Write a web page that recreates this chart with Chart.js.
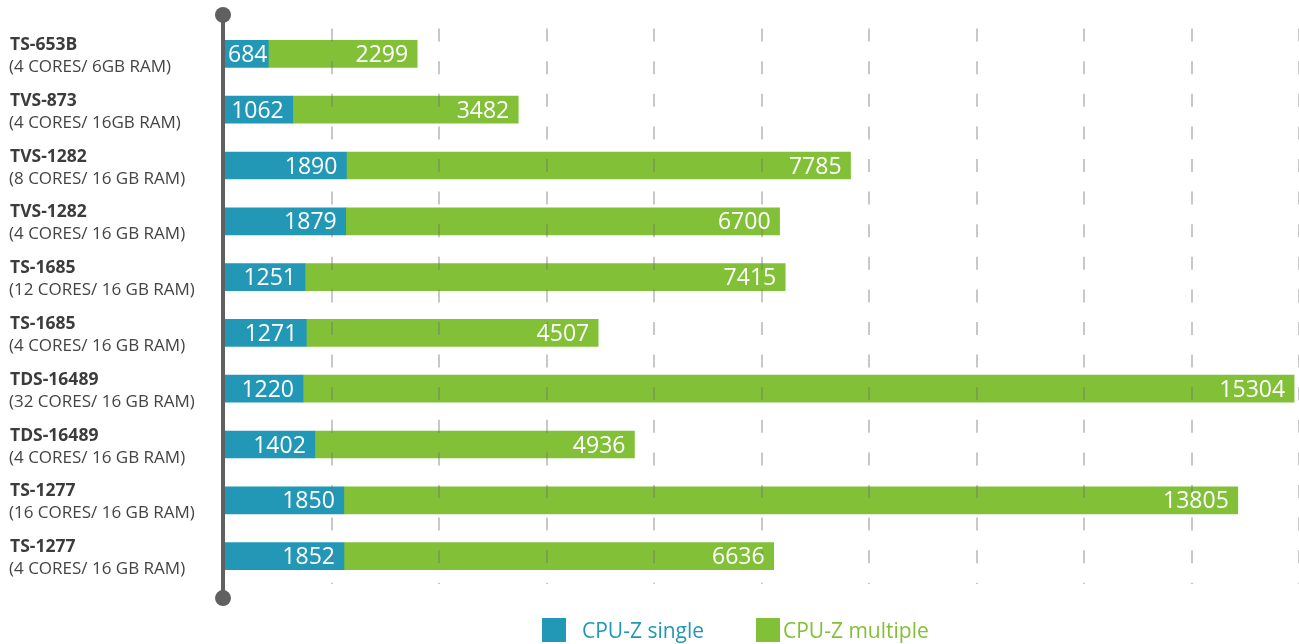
<!DOCTYPE html>
<html>
<head>
<meta charset="utf-8">
<script src="https://cdn.jsdelivr.net/npm/chart.js@4"></script>
<style>
  html, body { margin: 0; padding: 0; background: #fff; }
  #wrap { position: relative; width: 1299px; height: 644px; }
</style>
</head>
<body>
<div id="wrap"><canvas id="cpuz"></canvas></div>
<script>
// model names and their configuration line
const models = ['TS-653B', 'TVS-873', 'TVS-1282', 'TVS-1282', 'TS-1685', 'TS-1685', 'TDS-16489', 'TDS-16489', 'TS-1277', 'TS-1277'];
const configs = [
  '(4 CORES/ 6GB RAM)', '(4 CORES/ 16GB RAM)', '(8 CORES/ 16 GB RAM)', '(4 CORES/ 16 GB RAM)',
  '(12 CORES/ 16 GB RAM)', '(4 CORES/ 16 GB RAM)', '(32 CORES/ 16 GB RAM)', '(4 CORES/ 16 GB RAM)',
  '(16 CORES/ 16 GB RAM)', '(4 CORES/ 16 GB RAM)'
];
const single = [684, 1062, 1890, 1879, 1251, 1271, 1220, 1402, 1850, 1852];
const multiple = [2299, 3482, 7785, 6700, 7415, 4507, 15304, 4936, 13805, 6636];

const BLUE = '#2298b6';
const GREEN = '#82c037';
const FONT = '"Open Sans", "DejaVu Sans", sans-serif';

// draws the axis with dots, the two-line names, the values and the legend
const decorations = {
  id: 'decorations',
  afterDraw(chart) {
    const { ctx, chartArea, scales } = chart;
    const y = scales.y;
    const first = y.getPixelForTick(0);
    const last = y.getPixelForTick(models.length - 1);
    const ax = chartArea.left - 1;

    ctx.save();

    // axis line
    ctx.strokeStyle = '#606060';
    ctx.fillStyle = '#606060';
    ctx.lineWidth = 4;
    ctx.beginPath();
    ctx.moveTo(ax, first - 39);
    ctx.lineTo(ax, last + 42);
    ctx.stroke();
    [first - 39, last + 42].forEach(cy => {
      ctx.beginPath();
      ctx.arc(ax, cy, 8, 0, Math.PI * 2);
      ctx.fill();
    });

    // category labels
    ctx.textAlign = 'left';
    ctx.textBaseline = 'alphabetic';
    models.forEach((m, i) => {
      const cy = y.getPixelForTick(i);
      ctx.fillStyle = '#3c3c3c';
      ctx.font = 'bold 17.5px ' + FONT;
      ctx.fillText(m, 10, cy - 4);
      ctx.fillStyle = '#444';
      ctx.font = '17px ' + FONT;
      ctx.fillText(configs[i], 9, cy + 18);
    });

    // value labels inside bars
    ctx.font = '23px ' + FONT;
    ctx.fillStyle = '#fff';
    ctx.textAlign = 'right';
    chart.data.datasets.forEach((ds, d) => {
      chart.getDatasetMeta(d).data.forEach((bar, i) => {
        const txt = String(ds.data[i]);
        const w = ctx.measureText(txt).width;
        const end = Math.max(bar.x - 9, bar.base + w + 3);
        ctx.fillText(txt, end, bar.y + 8);
      });
    });

    // legend
    ctx.font = '21px ' + FONT;
    ctx.textAlign = 'left';
    const legendPos = [[542, 582], [756, 783]];
    chart.data.datasets.forEach((ds, d) => {
      const [bx, tx] = legendPos[d];
      ctx.fillStyle = ds.backgroundColor;
      ctx.fillRect(bx, 618, 24, 24);
      ctx.fillText(ds.label, tx, 637.5);
    });

    ctx.restore();
  }
};

new Chart(document.getElementById('cpuz'), {
  type: 'bar',
  data: {
    labels: models.map((m, i) => m + ' ' + configs[i]),
    datasets: [
      { label: 'CPU-Z single', data: single, backgroundColor: BLUE, barThickness: 27, borderWidth: 0 },
      { label: 'CPU-Z multiple', data: multiple, backgroundColor: GREEN, barThickness: 27, borderWidth: 0 }
    ]
  },
  options: {
    indexAxis: 'y',
    responsive: true,
    maintainAspectRatio: false,
    animation: false,
    layout: { padding: { left: 224, top: 26, right: 0, bottom: 60 } },
    plugins: {
      legend: { display: false },
      tooltip: { enabled: false }
    },
    scales: {
      x: {
        stacked: true,
        min: 0,
        max: 16600,
        ticks: { display: false, stepSize: 1675, includeBounds: false },
        grid: {
          color: c => (c.tick && c.tick.value === 0) ? 'rgba(0,0,0,0)' : 'rgba(110,110,110,0.38)',
          lineWidth: 2,
          drawTicks: false,
          z: 1
        },
        border: { display: false, dash: [13, 19.6], dashOffset: 30 }
      },
      y: {
        stacked: true,
        display: false
      }
    }
  },
  plugins: [decorations]
});
</script>
</body>
</html>
